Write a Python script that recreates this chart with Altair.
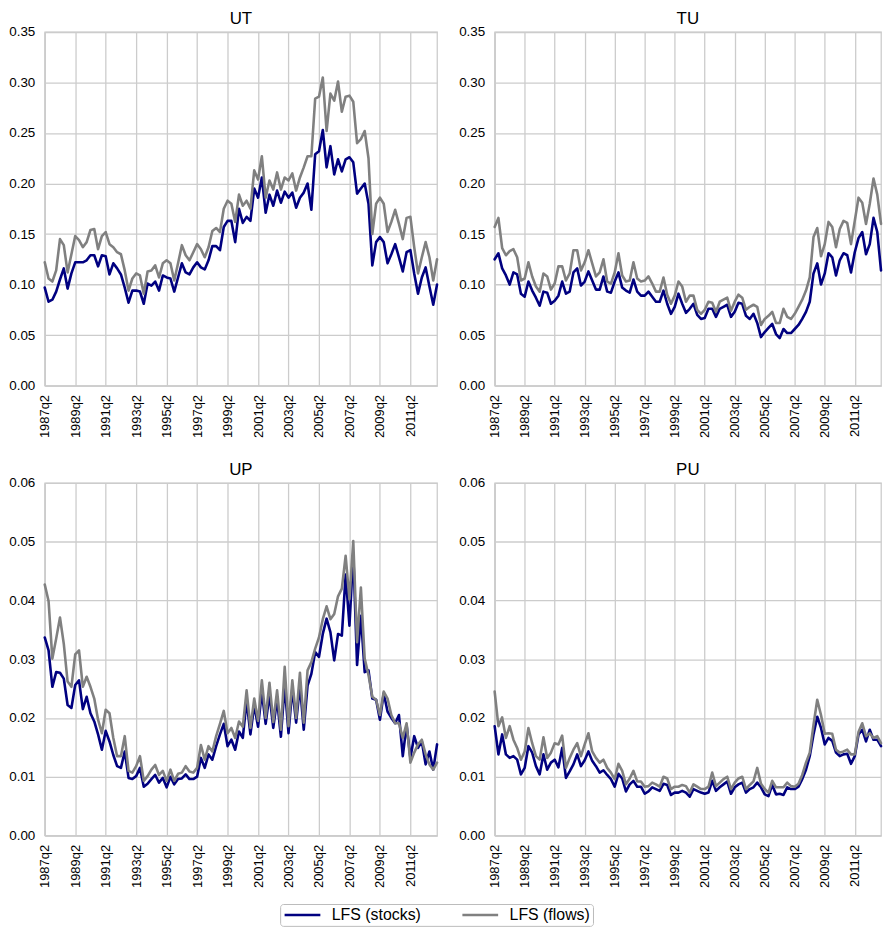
import altair as alt
import pandas as pd

# ---------------- data ----------------
START_YEAR = 1987
START_Q = 2
N_QUARTERS = 104

QUARTERS = []
_y, _q = START_YEAR, START_Q
for _ in range(N_QUARTERS):
    QUARTERS.append(f"{_y}q{_q}")
    _q += 1
    if _q > 4:
        _q = 1
        _y += 1

TICK_LABELS = ["1987q2", "1989q2", "1991q2", "1993q2", "1995q2", "1997q2", "1999q2",
               "2001q2", "2003q2", "2005q2", "2007q2", "2009q2", "2011q2"]

SERIES = ["LFS (stocks)", "LFS (flows)"]
COLORS = ["#000080", "#808080"]

UT_STOCKS = [0.097, 0.083, 0.085, 0.093, 0.105, 0.116, 0.096, 0.111, 0.122, 0.122,
             0.122, 0.124, 0.129, 0.129, 0.118, 0.129, 0.128, 0.110, 0.121, 0.116,
             0.110, 0.097, 0.082, 0.094, 0.094, 0.093, 0.081, 0.101, 0.099, 0.103,
             0.094, 0.109, 0.107, 0.106, 0.093, 0.107, 0.121, 0.112, 0.110, 0.117,
             0.122, 0.117, 0.115, 0.124, 0.138, 0.138, 0.134, 0.157, 0.163, 0.163,
             0.142, 0.175, 0.161, 0.167, 0.163, 0.195, 0.186, 0.206, 0.171, 0.189,
             0.178, 0.193, 0.181, 0.192, 0.186, 0.191, 0.176, 0.186, 0.191, 0.200,
             0.174, 0.229, 0.232, 0.253, 0.216, 0.237, 0.209, 0.224, 0.212, 0.224,
             0.226, 0.221, 0.190, 0.195, 0.200, 0.180, 0.119, 0.142, 0.147, 0.142,
             0.121, 0.130, 0.140, 0.127, 0.113, 0.132, 0.134, 0.111, 0.091, 0.107,
             0.117, 0.098, 0.080, 0.100]
UT_FLOWS = [0.122, 0.106, 0.103, 0.114, 0.145, 0.139, 0.112, 0.130, 0.148, 0.144,
            0.137, 0.142, 0.154, 0.155, 0.135, 0.148, 0.152, 0.140, 0.137, 0.132,
            0.130, 0.114, 0.094, 0.106, 0.111, 0.109, 0.091, 0.113, 0.114, 0.119,
            0.107, 0.121, 0.124, 0.121, 0.104, 0.121, 0.139, 0.129, 0.124, 0.132,
            0.140, 0.135, 0.127, 0.137, 0.153, 0.156, 0.152, 0.175, 0.183, 0.180,
            0.162, 0.189, 0.178, 0.183, 0.175, 0.213, 0.204, 0.227, 0.186, 0.203,
            0.194, 0.211, 0.194, 0.206, 0.203, 0.210, 0.193, 0.206, 0.216, 0.227,
            0.227, 0.284, 0.286, 0.305, 0.252, 0.289, 0.282, 0.301, 0.271, 0.286,
            0.287, 0.281, 0.240, 0.244, 0.252, 0.225, 0.150, 0.180, 0.186, 0.180,
            0.152, 0.162, 0.174, 0.160, 0.145, 0.166, 0.167, 0.137, 0.111, 0.127,
            0.142, 0.127, 0.104, 0.125]

TU_STOCKS = [0.125, 0.131, 0.116, 0.109, 0.100, 0.112, 0.110, 0.091, 0.088, 0.103,
             0.094, 0.087, 0.079, 0.093, 0.092, 0.081, 0.084, 0.089, 0.103, 0.091,
             0.093, 0.112, 0.116, 0.099, 0.103, 0.113, 0.104, 0.095, 0.095, 0.108,
             0.093, 0.092, 0.103, 0.112, 0.097, 0.094, 0.092, 0.105, 0.093, 0.089,
             0.089, 0.093, 0.088, 0.083, 0.083, 0.094, 0.081, 0.071, 0.078, 0.091,
             0.081, 0.072, 0.076, 0.081, 0.070, 0.066, 0.067, 0.076, 0.076, 0.068,
             0.076, 0.078, 0.080, 0.068, 0.073, 0.082, 0.081, 0.069, 0.066, 0.071,
             0.062, 0.048, 0.053, 0.057, 0.061, 0.051, 0.047, 0.056, 0.052, 0.052,
             0.056, 0.060, 0.066, 0.073, 0.083, 0.111, 0.121, 0.100, 0.111, 0.131,
             0.127, 0.109, 0.124, 0.131, 0.129, 0.112, 0.132, 0.146, 0.152, 0.130,
             0.140, 0.166, 0.152, 0.114]
TU_FLOWS = [0.157, 0.166, 0.136, 0.129, 0.133, 0.135, 0.127, 0.104, 0.106, 0.122,
            0.108, 0.098, 0.093, 0.111, 0.108, 0.095, 0.101, 0.118, 0.118, 0.104,
            0.111, 0.134, 0.134, 0.114, 0.122, 0.134, 0.121, 0.108, 0.112, 0.125,
            0.103, 0.101, 0.112, 0.131, 0.109, 0.103, 0.104, 0.122, 0.106, 0.103,
            0.104, 0.108, 0.101, 0.093, 0.093, 0.107, 0.090, 0.081, 0.089, 0.103,
            0.098, 0.083, 0.089, 0.089, 0.075, 0.071, 0.075, 0.083, 0.082, 0.073,
            0.083, 0.085, 0.087, 0.074, 0.083, 0.090, 0.087, 0.075, 0.078, 0.080,
            0.078, 0.060, 0.066, 0.069, 0.073, 0.062, 0.062, 0.076, 0.068, 0.066,
            0.071, 0.078, 0.085, 0.094, 0.107, 0.147, 0.156, 0.128, 0.140, 0.162,
            0.157, 0.137, 0.155, 0.163, 0.161, 0.140, 0.163, 0.186, 0.181, 0.160,
            0.180, 0.205, 0.189, 0.160]

UP_STOCKS = [0.0337, 0.0315, 0.0253, 0.0278, 0.0277, 0.0267, 0.0222, 0.0217, 0.0256, 0.0264,
             0.0215, 0.0236, 0.0208, 0.0194, 0.0172, 0.0146, 0.0178, 0.0160, 0.0137, 0.0118,
             0.0115, 0.0143, 0.0098, 0.0096, 0.0101, 0.0115, 0.0083, 0.0088, 0.0096, 0.0103,
             0.0090, 0.0098, 0.0082, 0.0100, 0.0087, 0.0096, 0.0097, 0.0104, 0.0096, 0.0096,
             0.0100, 0.0132, 0.0115, 0.0138, 0.0129, 0.0152, 0.0172, 0.0190, 0.0152, 0.0163,
             0.0146, 0.0177, 0.0166, 0.0230, 0.0172, 0.0222, 0.0185, 0.0245, 0.0190, 0.0240,
             0.0183, 0.0232, 0.0168, 0.0256, 0.0174, 0.0250, 0.0192, 0.0255, 0.0180, 0.0255,
             0.0275, 0.0312, 0.0304, 0.0343, 0.0369, 0.0346, 0.0298, 0.0343, 0.0340, 0.0444,
             0.0357, 0.0481, 0.0290, 0.0374, 0.0278, 0.0281, 0.0233, 0.0231, 0.0197, 0.0242,
             0.0211, 0.0200, 0.0191, 0.0205, 0.0135, 0.0188, 0.0132, 0.0169, 0.0149, 0.0160,
             0.0121, 0.0143, 0.0112, 0.0155]
UP_FLOWS = [0.0427, 0.0399, 0.0301, 0.0335, 0.0371, 0.0326, 0.0262, 0.0253, 0.0308, 0.0315,
            0.0253, 0.0270, 0.0253, 0.0233, 0.0197, 0.0174, 0.0214, 0.0208, 0.0166, 0.0135,
            0.0135, 0.0169, 0.0110, 0.0107, 0.0118, 0.0135, 0.0093, 0.0101, 0.0112, 0.0120,
            0.0103, 0.0110, 0.0093, 0.0112, 0.0093, 0.0105, 0.0107, 0.0118, 0.0109, 0.0107,
            0.0115, 0.0154, 0.0129, 0.0152, 0.0143, 0.0169, 0.0190, 0.0212, 0.0174, 0.0183,
            0.0166, 0.0194, 0.0185, 0.0247, 0.0183, 0.0233, 0.0195, 0.0264, 0.0200, 0.0260,
            0.0193, 0.0247, 0.0180, 0.0287, 0.0186, 0.0264, 0.0200, 0.0277, 0.0192, 0.0281,
            0.0295, 0.0318, 0.0337, 0.0368, 0.0390, 0.0368, 0.0377, 0.0407, 0.0420, 0.0476,
            0.0402, 0.0501, 0.0329, 0.0422, 0.0301, 0.0273, 0.0236, 0.0231, 0.0205, 0.0245,
            0.0233, 0.0205, 0.0191, 0.0191, 0.0166, 0.0191, 0.0124, 0.0141, 0.0155, 0.0163,
            0.0138, 0.0121, 0.0112, 0.0124]

PU_STOCKS = [0.0186, 0.0138, 0.0172, 0.0138, 0.0132, 0.0135, 0.0129, 0.0104, 0.0115, 0.0152,
             0.0141, 0.0118, 0.0104, 0.0138, 0.0112, 0.0124, 0.0129, 0.0116, 0.0149, 0.0098,
             0.0109, 0.0121, 0.0138, 0.0118, 0.0128, 0.0143, 0.0127, 0.0118, 0.0107, 0.0111,
             0.0103, 0.0096, 0.0083, 0.0105, 0.0097, 0.0075, 0.0087, 0.0093, 0.0083, 0.0083,
             0.0071, 0.0075, 0.0082, 0.0079, 0.0076, 0.0088, 0.0086, 0.0069, 0.0073, 0.0073,
             0.0076, 0.0073, 0.0066, 0.0079, 0.0076, 0.0073, 0.0071, 0.0073, 0.0093, 0.0076,
             0.0082, 0.0087, 0.0092, 0.0071, 0.0082, 0.0087, 0.0090, 0.0073, 0.0079, 0.0082,
             0.0090, 0.0082, 0.0070, 0.0067, 0.0086, 0.0070, 0.0071, 0.0069, 0.0082, 0.0079,
             0.0079, 0.0083, 0.0096, 0.0112, 0.0135, 0.0172, 0.0202, 0.0183, 0.0155, 0.0166,
             0.0161, 0.0141, 0.0135, 0.0138, 0.0139, 0.0122, 0.0135, 0.0172, 0.0180, 0.0160,
             0.0180, 0.0163, 0.0163, 0.0152]
PU_FLOWS = [0.0245, 0.0186, 0.0201, 0.0166, 0.0186, 0.0163, 0.0149, 0.0129, 0.0143, 0.0183,
            0.0157, 0.0135, 0.0129, 0.0167, 0.0132, 0.0141, 0.0157, 0.0155, 0.0170, 0.0115,
            0.0132, 0.0146, 0.0157, 0.0135, 0.0155, 0.0174, 0.0143, 0.0132, 0.0124, 0.0129,
            0.0115, 0.0107, 0.0096, 0.0122, 0.0110, 0.0087, 0.0097, 0.0110, 0.0092, 0.0092,
            0.0083, 0.0084, 0.0090, 0.0087, 0.0083, 0.0100, 0.0097, 0.0079, 0.0083, 0.0083,
            0.0086, 0.0084, 0.0073, 0.0087, 0.0083, 0.0079, 0.0079, 0.0083, 0.0107, 0.0084,
            0.0090, 0.0096, 0.0100, 0.0079, 0.0090, 0.0097, 0.0100, 0.0079, 0.0086, 0.0092,
            0.0115, 0.0088, 0.0079, 0.0073, 0.0093, 0.0082, 0.0082, 0.0082, 0.0090, 0.0084,
            0.0083, 0.0088, 0.0103, 0.0124, 0.0141, 0.0188, 0.0231, 0.0205, 0.0173, 0.0174,
            0.0173, 0.0146, 0.0141, 0.0143, 0.0146, 0.0138, 0.0138, 0.0176, 0.0191, 0.0169,
            0.0174, 0.0166, 0.0169, 0.0157]

TOP_TICKS = [0.0, 0.05, 0.10, 0.15, 0.20, 0.25, 0.30, 0.35]
BOTTOM_TICKS = [0.0, 0.01, 0.02, 0.03, 0.04, 0.05, 0.06]
PANEL_TITLES = ["UT", "TU", "UP", "PU"]

FONT = "Liberation Sans"
GRID = "#cccccc"


def panel(name, stocks, flows, ticks, width, height):
    df = pd.DataFrame({
        "quarter": QUARTERS + QUARTERS,
        "value": stocks + flows,
        "series": [SERIES[0]] * N_QUARTERS + [SERIES[1]] * N_QUARTERS,
    })
    base = alt.Chart(df).encode(
        x=alt.X("quarter:O", sort=QUARTERS,
                scale=alt.Scale(type="point", padding=0),
                axis=alt.Axis(values=TICK_LABELS, labelAngle=-90, title=None, grid=True)),
        y=alt.Y("value:Q",
                scale=alt.Scale(domain=[ticks[0], ticks[-1]], nice=False, zero=True),
                axis=alt.Axis(values=ticks, format=".2f", title=None)),
        color=alt.Color("series:N",
                        scale=alt.Scale(domain=SERIES, range=COLORS),
                        legend=alt.Legend(title=None, orient="none", legendX=237, legendY=878,
                                          direction="horizontal")),
    )
    layers = [base.transform_filter(alt.datum.series == s).mark_line(
        strokeWidth=2.6, strokeJoin="round", strokeCap="round") for s in SERIES]
    title = alt.Chart(pd.DataFrame({"t": [name]})).mark_text(
        font=FONT, fontSize=17, color="#000000", baseline="middle", align="center"
    ).encode(text="t:N", x=alt.value(width / 2), y=alt.value(-13))
    return alt.layer(*layers, title).properties(width=width, height=height)


ut = panel(PANEL_TITLES[0], UT_STOCKS, UT_FLOWS, TOP_TICKS, 395, 356)
tu = panel(PANEL_TITLES[1], TU_STOCKS, TU_FLOWS, TOP_TICKS, 389, 356)
up = panel(PANEL_TITLES[2], UP_STOCKS, UP_FLOWS, BOTTOM_TICKS, 395, 355)
pu = panel(PANEL_TITLES[3], PU_STOCKS, PU_FLOWS, BOTTOM_TICKS, 389, 355)

chart = alt.vconcat(
    alt.hconcat(ut, tu, spacing=19),
    alt.hconcat(up, pu, spacing=19),
    spacing=21,
).properties(padding={"top": -2, "left": 0, "right": 0, "bottom": 0}).configure_axis(
    labelFont=FONT, labelColor="#000000",
    gridColor=GRID, gridWidth=1.3, domainColor=GRID, domainWidth=1.3,
    ticks=False,
).configure_axisX(labelPadding=9, labelFontSize=13).configure_axisY(
    labelPadding=10, labelFontSize=13.5
).configure_view(
    stroke=GRID, strokeWidth=1.3,
).configure_legend(
    labelFont=FONT, labelFontSize=16, labelColor="#000000",
    symbolType="stroke", symbolSize=1296, symbolStrokeWidth=2.6, clipHeight=16,
    strokeColor="#bbbbbb", fillColor="#ffffff", padding=3, cornerRadius=3,
    columnPadding=40, labelOffset=10,
)

chart.save("out.html", embed_options={"renderer": "svg", "actions": False})
